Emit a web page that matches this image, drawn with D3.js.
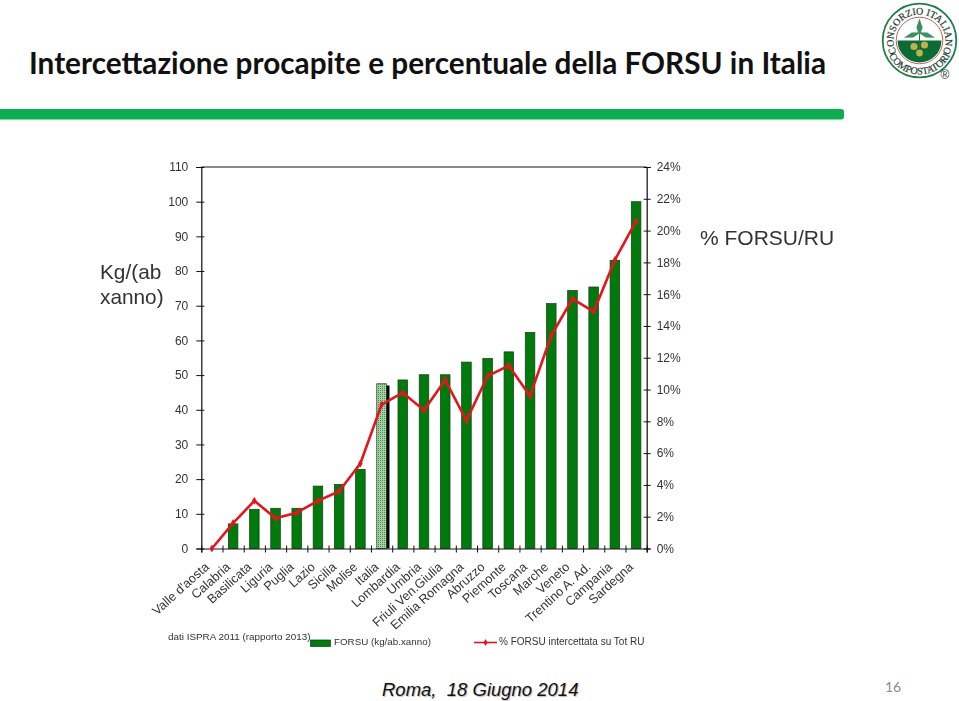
<!DOCTYPE html>
<html>
<head>
<meta charset="utf-8">
<title>Intercettazione FORSU</title>
<script src="https://cdn.jsdelivr.net/npm/d3@7"></script>
<style>
	html, body { margin: 0; padding: 0; background: #fff; }
	svg { display: block; }
	.axis path, .axis line { stroke: #111; }
	.axis text { font-family: "Liberation Sans", Arial, sans-serif; font-size: 12px; fill: #333; }
	.note { font-family: "Liberation Sans", Arial, sans-serif; fill: #333; }
</style>
</head>
<body>
<div id="chart"></div>
<script>
var regions = ["Valle d'aosta", "Calabria", "Basilicata", "Liguria", "Puglia", "Lazio", "Sicilia", "Molise", "Italia",
	"Lombardia", "Umbria", "Friuli Ven.Giulia", "Emilia Romagna", "Abruzzo", "Piemonte", "Toscana", "Marche",
	"Veneto", "Trentino A. Ad.", "Campania", "Sardegna"];
var forsuKg = [0, 7.1, 11.3, 11.6, 11.6, 18, 18.5, 22.8, 47.5, 48.6, 50.1, 50.1, 53.75, 54.8, 56.7, 62.3, 70.6, 74.4, 75.4, 83.1, 100];
var forsuPct = [0, 1.6, 3.0, 1.9, 2.25, 3.0, 3.6, 5.35, 9.05, 9.8, 8.7, 10.6, 8.05, 10.85, 11.5, 9.6, 13.4, 15.7, 14.9, 18.15, 20.6];
var kgTicks = d3.range(0, 111, 10);
var pctTicks = d3.range(0, 25, 2);
var italiaIndex = 8;
var italiaShadowKg = 47;

var width = 959, height = 701;
var left = 201.3, right = 646.7, top_ = 167, bottom = 548.5;

var svg = d3.select("#chart").append("svg")
	.attr("width", width)
	.attr("height", height);

var defs = svg.append("defs");

var hatch = defs.append("pattern")
	.attr("id", "hatch")
	.attr("width", 2)
	.attr("height", 2)
	.attr("patternUnits", "userSpaceOnUse");
hatch.append("rect").attr("width", 2).attr("height", 2).attr("fill", "#a9cfa9");
hatch.append("rect").attr("width", 1).attr("height", 1).attr("fill", "#3f8f46");

var soft = defs.append("filter").attr("id", "soft");
soft.append("feGaussianBlur").attr("stdDeviation", 0.35);

var x = d3.scaleBand().domain(d3.range(regions.length)).range([left, right]);
var xEdges = d3.scaleLinear().domain([0, regions.length]).range([left, right]);
var yKg = d3.scaleLinear().domain([0, 110]).range([bottom, top_]);
var yPct = d3.scaleLinear().domain([0, 24]).range([bottom, top_]);

var centre = function(i) { return x(i) + x.bandwidth() / 2; };

// Title and the green rule
svg.append("text")
	.attr("x", 29)
	.attr("y", 74)
	.attr("font-family", "Lato, sans-serif")
	.attr("font-weight", 700)
	.attr("font-size", 29.5)
	.attr("textLength", 797)
	.attr("lengthAdjust", "spacingAndGlyphs")
	.attr("fill", "#111")
	.text("Intercettazione procapite e percentuale della FORSU in Italia");

svg.append("rect")
	.attr("x", -6)
	.attr("y", 109)
	.attr("width", 850)
	.attr("height", 10.5)
	.attr("rx", 3)
	.attr("fill", "#0cad50");

var chart = svg.append("g").attr("filter", "url(#soft)");

// Bars
chart.append("rect")
	.attr("x", centre(italiaIndex) + 4.5)
	.attr("y", yKg(italiaShadowKg))
	.attr("width", 3.4)
	.attr("height", bottom - yKg(italiaShadowKg))
	.attr("fill", "#000");

chart.selectAll("rect.bar")
	.data(forsuKg)
	.enter()
	.append("rect")
	.attr("class", "bar")
	.attr("x", function(d, i) { return centre(i) - 4.8; })
	.attr("y", function(d) { return yKg(d); })
	.attr("width", 9.6)
	.attr("height", function(d) { return bottom - yKg(d); })
	.attr("fill", function(d, i) { return i == italiaIndex ? "url(#hatch)" : "#067a10"; })
	.attr("stroke", "#0c3d10")
	.attr("stroke-width", 0.7);

// Frame and axes
chart.append("line")
	.attr("x1", left).attr("x2", right)
	.attr("y1", top_).attr("y2", top_)
	.attr("stroke", "#111").attr("stroke-width", 1.2);

var leftAxis = chart.append("g")
	.attr("class", "axis")
	.attr("transform", "translate(" + left + ",0)")
	.call(d3.axisLeft(yKg).tickValues(kgTicks).tickSize(5).tickPadding(8));
leftAxis.selectAll("line").attr("x1", 3);

var rightAxis = chart.append("g")
	.attr("class", "axis")
	.attr("transform", "translate(" + right + ",0)")
	.call(d3.axisRight(yPct).tickValues(pctTicks).tickSize(4).tickPadding(6)
		.tickFormat(function(d) { return d + "%"; }));
rightAxis.selectAll("line").attr("x1", -3);

leftAxis.select("path").attr("stroke-width", 1.2);
rightAxis.select("path").attr("stroke-width", 1.2);

var bottomAxis = chart.append("g")
	.attr("class", "axis")
	.attr("transform", "translate(0," + bottom + ")")
	.call(d3.axisBottom(xEdges).ticks(regions.length).tickSize(4).tickFormat(""));
bottomAxis.select("path").attr("stroke-width", 1.2);
bottomAxis.selectAll("line").attr("y1", -3);

// Rotated region names
chart.selectAll("text.region")
	.data(regions)
	.enter()
	.append("text")
	.attr("class", "region note")
	.attr("font-size", 12.7)
	.attr("text-anchor", "end")
	.attr("transform", function(d, i) { return "translate(" + (centre(i) - 2) + ",568) rotate(-42)"; })
	.text(function(d) { return d; });

// Percentage line
var line = d3.line()
	.x(function(d, i) { return centre(i); })
	.y(function(d) { return yPct(d); });

chart.append("path")
	.datum(forsuPct)
	.attr("d", line)
	.attr("fill", "none")
	.attr("stroke", "#e2141c")
	.attr("stroke-width", 2.6)
	.attr("stroke-linejoin", "round");

chart.selectAll("path.dot")
	.data(forsuPct)
	.enter()
	.append("path")
	.attr("class", "dot")
	.attr("d", d3.symbol().type(d3.symbolDiamond).size(18))
	.attr("transform", function(d, i) { return "translate(" + centre(i) + "," + yPct(d) + ")"; })
	.attr("fill", "#e2141c");

// Side labels
var sideLabel = function(text, px, py, size)
{
	chart.append("text")
		.attr("class", "note")
		.attr("x", px)
		.attr("y", py)
		.attr("font-size", size)
		.text(text);
};
sideLabel("Kg/(ab", 100, 279, 20.8);
sideLabel("xanno)", 100, 304, 20.8);
sideLabel("% FORSU/RU", 700, 245, 21);

// Legend and source
sideLabel("dati ISPRA 2011 (rapporto 2013)", 168, 640, 9.9);

chart.append("rect")
	.attr("x", 310.5).attr("y", 640)
	.attr("width", 20).attr("height", 6.5)
	.attr("fill", "#067a10")
	.attr("stroke", "#0c3d10")
	.attr("stroke-width", 0.7);
sideLabel("FORSU (kg/ab.xanno)", 334, 645, 9.8);

chart.append("line")
	.attr("x1", 474).attr("x2", 497)
	.attr("y1", 642.5).attr("y2", 642.5)
	.attr("stroke", "#e2141c")
	.attr("stroke-width", 1.6);
chart.append("path")
	.attr("d", d3.symbol().type(d3.symbolDiamond).size(14))
	.attr("transform", "translate(485.5,642.5)")
	.attr("fill", "#e2141c");
sideLabel("% FORSU intercettata su Tot RU", 499, 645, 10);

// Footer
svg.append("text")
	.attr("x", 382)
	.attr("y", 696)
	.attr("font-family", "'Liberation Sans', Arial, sans-serif")
	.attr("font-style", "italic")
	.attr("font-size", 18.5)
	.attr("fill", "#111")
	.attr("xml:space", "preserve")
	.style("text-shadow", "1px 1px 1px #bbb")
	.text("Roma,  18 Giugno 2014");

svg.append("text")
	.attr("x", 885)
	.attr("y", 692)
	.attr("font-family", "Lato, sans-serif")
	.attr("font-size", 14)
	.attr("fill", "#8b8b8b")
	.text("16");

// Logo of the consortium
var logo = svg.append("g").attr("transform", "translate(919.5,40.5)");

logo.append("circle").attr("r", 36.8).attr("fill", "#fff").attr("stroke", "#1f7f46").attr("stroke-width", 1.8);
logo.append("circle").attr("r", 23.3).attr("fill", "#fff").attr("stroke", "#c9605a").attr("stroke-width", 1);

var ground = d3.arc()
	.innerRadius(0)
	.outerRadius(22)
	.startAngle(Math.PI / 2)
	.endAngle(Math.PI * 1.5);
logo.append("path").attr("d", ground()).attr("fill", "#0b6b35");

defs.append("path")
	.attr("id", "logoTop")
	.attr("d", "M 0 26 A 26 26 0 1 1 0 -26 A 26 26 0 1 1 0 26");
defs.append("path")
	.attr("id", "logoBottom")
	.attr("d", "M -34 0 A 34 34 0 0 0 34 0");

var logoText = function(href, text)
{
	logo.append("text")
		.attr("font-family", "'Liberation Serif', serif")
		.attr("font-size", 10)
		.attr("fill", "#1c3a2a")
		.attr("stroke", "#1c3a2a")
		.attr("stroke-width", 0.2)
		.append("textPath")
		.attr("href", href)
		.attr("startOffset", "50%")
		.attr("text-anchor", "middle")
		.text(text);
};
logoText("#logoTop", "CONSORZIO ITALIANO");
logoText("#logoBottom", "COMPOSTATORI");

// Plant: stem, three leaves and the yellow clusters below the ground line
logo.append("line")
	.attr("y1", -14).attr("y2", 8)
	.attr("stroke", "#2e6b4a").attr("stroke-width", 1);

var leaf = d3.symbol().type(d3.symbolDiamond).size(60);
[[0, -13, 0, 0.75, 1.25], [-7, -5.5, 72, 0.65, 1.25], [7, -5.5, -72, 0.65, 1.25]].forEach(function(p)
{
	logo.append("path")
		.attr("d", leaf())
		.attr("transform", "translate(" + p[0] + "," + p[1] + ") rotate(" + p[2] + ") scale(" + p[3] + "," + p[4] + ")")
		.attr("fill", "#3c8f62");
});
[[-5.5, 6, 3.6], [5, 4.5, 3.6], [0, 12.5, 3.4]].forEach(function(p)
{
	logo.append("circle")
		.attr("cx", p[0])
		.attr("cy", p[1])
		.attr("r", p[2])
		.attr("fill", "#bdb24c");
});

logo.append("text")
	.attr("x", 25.5)
	.attr("y", 38.5)
	.attr("text-anchor", "middle")
	.attr("font-family", "'Liberation Sans', sans-serif")
	.attr("font-size", 12)
	.attr("fill", "#333")
	.text("®");
</script>
</body>
</html>
